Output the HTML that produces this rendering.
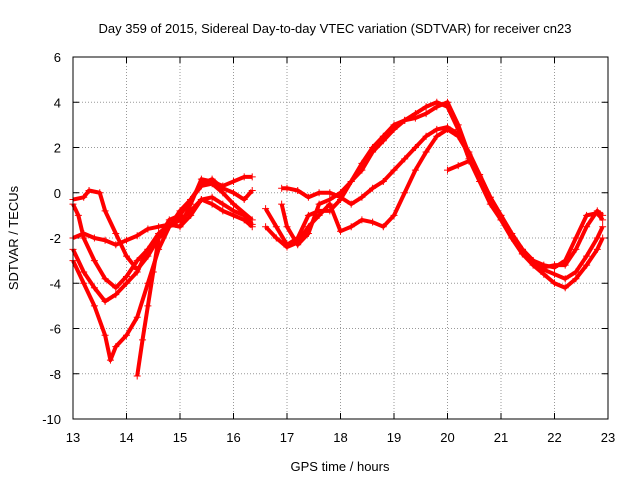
<!DOCTYPE html>
<html><head><meta charset="utf-8"><style>
body{margin:0;background:#fff;font-family:"Liberation Sans",sans-serif;}
svg text{font-family:"Liberation Sans",sans-serif;font-size:13px;fill:#000;}
</style></head><body>
<svg id="c" width="640" height="480">
<text x="335" y="33" text-anchor="middle">Day 359 of 2015, Sidereal Day-to-day VTEC variation (SDTVAR) for receiver cn23</text>
<text x="340" y="471" text-anchor="middle">GPS time / hours</text>
<text transform="translate(18,238) rotate(-90)" text-anchor="middle">SDTVAR / TECUs</text>
<g id="grid"></g><g id="marks"></g>
<rect x="73" y="57" width="535" height="362" fill="none" stroke="#000"/>
</svg>
<script>
const xTicks=[13,14,15,16,17,18,19,20,21,22,23];
const yTicks=[-10,-8,-6,-4,-2,0,2,4,6];
const seriesX=[
[13.0,13.2,13.3,13.5,13.6,13.8,14.0,14.2,14.4,14.6,14.8,15.0,15.2,15.4,15.6,15.8,16.0,16.2,16.35],
[13.0,13.2,13.4,13.6,13.8,14.0,14.2,14.4,14.6,14.8,15.0,15.2,15.4,15.6,15.8,16.0,16.2,16.35],
[13.0,13.1,13.2,13.4,13.6,13.8,14.0,14.2,14.4,14.6,14.8,15.0,15.2,15.4,15.6,15.8,16.0,16.2,16.35],
[13.0,13.2,13.4,13.6,13.8,14.0,14.2,14.4,14.6,14.8,15.0,15.2,15.4,15.6,15.8,16.0,16.2,16.35],
[13.0,13.2,13.4,13.6,13.7,13.8,14.0,14.2,14.4,14.6,14.8,15.0,15.2,15.4,15.6,15.8,16.0,16.35],
[14.2,14.3,14.4,14.5,14.6,14.8,15.0],
[16.6,16.8,17.0,17.2,17.4,17.6,17.8,18.0,18.2,18.4,18.6,18.8,19.0,19.2,19.4,19.6,19.8,20.0,20.2,20.4,20.6,20.8,21.0,21.2,21.4,21.6,21.8,22.0,22.2,22.4,22.6,22.8,22.9],
[16.9,17.0,17.2,17.4,17.6,17.8,18.0,18.2,18.4,18.6,18.8,19.0,19.2,19.4,19.6,19.8,20.0,20.2,20.4,20.6,20.8,21.0,21.2,21.4,21.6,21.8,22.0,22.2,22.4,22.6,22.8,22.9],
[16.6,16.8,17.0,17.2,17.4,17.6,17.8,18.0,18.2,18.4,18.6,18.8,19.0,19.2,19.4,19.6,19.8,20.0,20.2,20.4,20.6,20.8,21.0,21.2,21.4,21.6,21.8,22.0,22.2,22.4,22.6,22.8,22.9],
[16.9,17.0,17.2,17.4,17.6,17.8,18.0,18.2,18.4,18.6,18.8,19.0,19.2,19.4,19.6,19.8,20.0,20.2,20.4,20.6,20.8,21.0,21.2,21.4,21.6,21.8,22.0,22.2,22.4,22.6,22.8,22.9],
[20.0,20.2,20.4]
];
const seriesY=[
[-0.3,-0.2,0.1,0.0,-0.8,-1.8,-2.8,-3.4,-2.8,-2.0,-1.5,-1.2,-0.8,-0.3,-0.5,-0.8,-1.0,-1.2,-1.5],
[-2.0,-1.8,-2.0,-2.1,-2.3,-2.1,-1.9,-1.6,-1.5,-1.4,-1.5,-0.5,0.6,0.5,0.3,0.5,0.7,0.7],
[-0.5,-1.0,-2.0,-3.0,-3.8,-4.2,-3.7,-3.0,-2.5,-2.0,-1.5,-1.0,-0.3,0.4,0.6,0.2,0.0,-0.3,0.1],
[-2.5,-3.5,-4.2,-4.8,-4.5,-4.0,-3.5,-2.5,-1.8,-1.4,-1.5,-1.0,-0.3,-0.2,-0.5,-0.8,-1.0,-1.4],
[-3.0,-4.0,-5.0,-6.3,-7.4,-6.8,-6.3,-5.5,-4.0,-2.5,-1.5,-0.8,-0.3,0.3,0.4,0.0,-0.5,-1.2],
[-8.1,-6.5,-5.0,-3.5,-2.0,-1.2,-1.0],
[-0.7,-1.5,-2.3,-2.0,-1.0,-0.8,-0.8,-0.3,0.5,1.0,1.8,2.3,2.8,3.2,3.5,3.8,4.0,3.8,2.8,1.5,0.5,-0.5,-1.2,-2.0,-2.7,-3.0,-3.2,-3.3,-3.0,-2.0,-1.0,-0.9,-1.2],
[0.2,0.2,0.1,-0.2,0.0,0.0,-0.2,-0.5,-0.2,0.2,0.5,1.0,1.5,2.0,2.5,2.8,2.9,2.6,1.8,0.8,-0.2,-1.0,-1.8,-2.5,-3.0,-3.4,-3.6,-3.8,-3.5,-2.8,-2.0,-1.5],
[-1.5,-2.0,-2.4,-2.2,-1.5,-1.0,-0.5,-1.7,-1.5,-1.2,-1.3,-1.5,-1.0,0.0,1.0,1.8,2.5,2.8,2.5,1.7,0.7,-0.3,-1.2,-2.0,-2.7,-3.2,-3.6,-4.0,-4.2,-3.8,-3.2,-2.5,-2.0],
[-0.5,-1.5,-2.3,-1.8,-0.5,-0.3,0.0,0.5,1.3,2.0,2.5,3.0,3.2,3.3,3.5,3.8,4.0,3.0,1.7,0.8,-0.2,-1.0,-1.8,-2.5,-3.0,-3.3,-3.2,-3.2,-2.5,-1.5,-0.8,-1.0],
[1.0,1.2,1.4]
];
const X=v=>73+(v-13)*53.5, Y=v=>419-(v+10)*(362/16);
const NS="http://www.w3.org/2000/svg";
const g=document.getElementById('grid'), m=document.getElementById('marks');
xTicks.forEach(t=>{
 const l=document.createElementNS(NS,'line');
 l.setAttribute('x1',X(t));l.setAttribute('x2',X(t));l.setAttribute('y1',57);l.setAttribute('y2',419);
 l.setAttribute('stroke','#999');l.setAttribute('stroke-dasharray','1,2');
 
 
 g.appendChild(l);
 const tk=document.createElementNS(NS,'path');
 tk.setAttribute('d',`M${X(t)},419v-6M${X(t)},57v6`);tk.setAttribute('stroke','#000');
 
 
 g.appendChild(tk);
 const tx=document.createElementNS(NS,'text');
 tx.setAttribute('x',X(t));tx.setAttribute('y',442);tx.setAttribute('text-anchor','middle');tx.textContent=t;
 
 
 g.appendChild(tx);
});
yTicks.forEach(t=>{
 const l=document.createElementNS(NS,'line');
 l.setAttribute('x1',73);l.setAttribute('x2',608);l.setAttribute('y1',Y(t));l.setAttribute('y2',Y(t));
 l.setAttribute('stroke','#999');l.setAttribute('stroke-dasharray','1,2');
 
 
 g.appendChild(l);
 const tk=document.createElementNS(NS,'path');
 tk.setAttribute('d',`M73,${Y(t)}h6M608,${Y(t)}h-6`);tk.setAttribute('stroke','#000');
 
 
 g.appendChild(tk);
 const tx=document.createElementNS(NS,'text');
 tx.setAttribute('x',61);tx.setAttribute('y',Y(t)+5);tx.setAttribute('text-anchor','end');tx.textContent=t;
 
 
 g.appendChild(tx);
});
seriesX.forEach((xs,i)=>{
 const ys=seriesY[i];
 const p=document.createElementNS(NS,'polyline');
 p.setAttribute('points',xs.map((x,j)=>X(x)+','+Y(ys[j])).join(' '));
 p.setAttribute('fill','none');p.setAttribute('stroke','#f00');p.setAttribute('stroke-width','4');
 p.setAttribute('stroke-linejoin','round');
 
 
 m.appendChild(p);
 xs.forEach((x,j)=>{
  const cx=X(x),cy=Y(ys[j]);
  const pl=document.createElementNS(NS,'path');
  pl.setAttribute('d',`M${cx-3.5},${cy}H${cx+3.5}M${cx},${cy-3.5}V${cy+3.5}`);
  pl.setAttribute('stroke','#f00');pl.setAttribute('stroke-width','1');
  
  
  m.appendChild(pl);
 });
});
</script>
</body></html>
